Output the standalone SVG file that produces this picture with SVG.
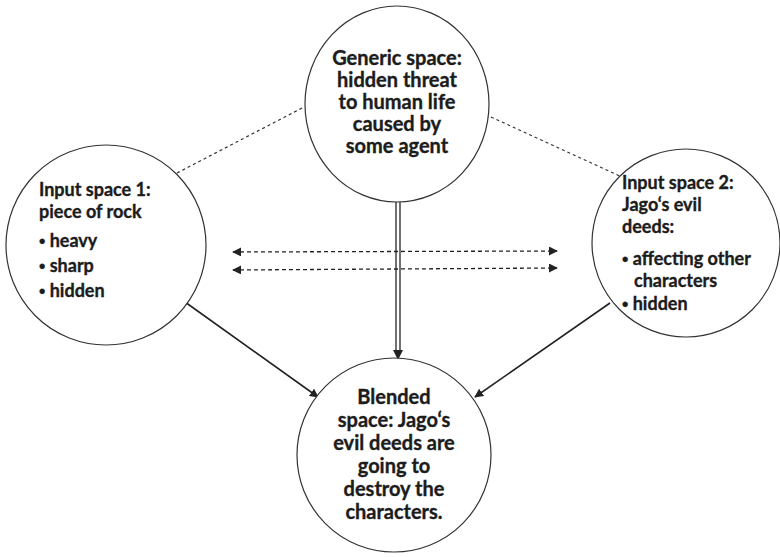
<svg xmlns="http://www.w3.org/2000/svg" width="780" height="557" viewBox="0 0 780 557">
<defs>
<style>
.c{fill:#fff;stroke:#333;stroke-width:1.2}
.t{font-family:Lato,"Liberation Sans",sans-serif;font-weight:bold;font-size:20px;fill:#1c1c1c;stroke:#1c1c1c;stroke-width:0.35}
.m{text-anchor:middle}
.s{font-size:18px}
.b{font-family:"Liberation Sans",sans-serif}
.ln{stroke:#222;stroke-width:1.6;fill:none}
.dot{stroke:#333;stroke-width:1.2;stroke-dasharray:3 3;fill:none}
.dash{stroke:#222;stroke-width:1.3;stroke-dasharray:4 3;fill:none}
</style>
<marker id="ah" viewBox="0 0 10 10" refX="9" refY="5" markerWidth="9" markerHeight="9" markerUnits="userSpaceOnUse" orient="auto-start-reverse">
<path d="M0,0 L10,5 L0,10 z" fill="#222"/>
</marker>
</defs>
<rect width="780" height="557" fill="#fff"/>
<g id="connectors">
<line class="dot" x1="177" y1="173" x2="304" y2="107"/>
<line class="dot" x1="491" y1="117" x2="622" y2="177"/>
<line class="dash" x1="233" y1="252" x2="557" y2="251" marker-start="url(#ah)" marker-end="url(#ah)"/>
<line class="dash" x1="233" y1="270" x2="557" y2="268" marker-start="url(#ah)" marker-end="url(#ah)"/>
<line stroke="#222" stroke-width="1.3" x1="396" y1="202" x2="396" y2="352"/>
<line stroke="#222" stroke-width="1.3" x1="400" y1="202" x2="400" y2="352"/>
<path d="M393,350 L403,350 L398,360 z" fill="#222"/>
<line class="ln" x1="185" y1="302" x2="318" y2="397" marker-end="url(#ah)"/>
<line class="ln" x1="610" y1="303" x2="475" y2="397" marker-end="url(#ah)"/>
</g>
<g id="generic">
<ellipse class="c" cx="397" cy="104" rx="92" ry="98"/>
<text class="t m" x="397" y="65">Generic space:</text>
<text class="t m" x="397" y="87">hidden threat</text>
<text class="t m" x="397" y="109">to human life</text>
<text class="t m" x="397" y="131">caused by</text>
<text class="t m" x="397" y="153">some agent</text>
</g>
<g id="input1">
<circle class="c" cx="106" cy="245" r="100"/>
<text class="t s" x="39" y="196">Input space 1:</text>
<text class="t s" x="39" y="218">piece of rock</text>
<text class="t s" x="39" y="247"><tspan class="b">•</tspan> heavy</text>
<text class="t s" x="39" y="272"><tspan class="b">•</tspan> sharp</text>
<text class="t s" x="39" y="297"><tspan class="b">•</tspan> hidden</text>
</g>
<g id="input2">
<circle class="c" cx="686" cy="243" r="94"/>
<text class="t s" x="622" y="189">Input space 2:</text>
<text class="t s" x="622" y="211">Jago‘s evil</text>
<text class="t s" x="622" y="233">deeds:</text>
<text class="t s" x="622" y="265"><tspan class="b">•</tspan> affecting other</text>
<text class="t s" x="634" y="287">characters</text>
<text class="t s" x="622" y="310"><tspan class="b">•</tspan> hidden</text>
</g>
<g id="blended">
<circle class="c" cx="394" cy="455" r="97"/>
<text class="t m" x="394" y="404">Blended</text>
<text class="t m" x="394" y="427">space: Jago‘s</text>
<text class="t m" x="394" y="450">evil deeds are</text>
<text class="t m" x="394" y="473">going to</text>
<text class="t m" x="394" y="496">destroy the</text>
<text class="t m" x="394" y="519">characters.</text>
</g>
</svg>
